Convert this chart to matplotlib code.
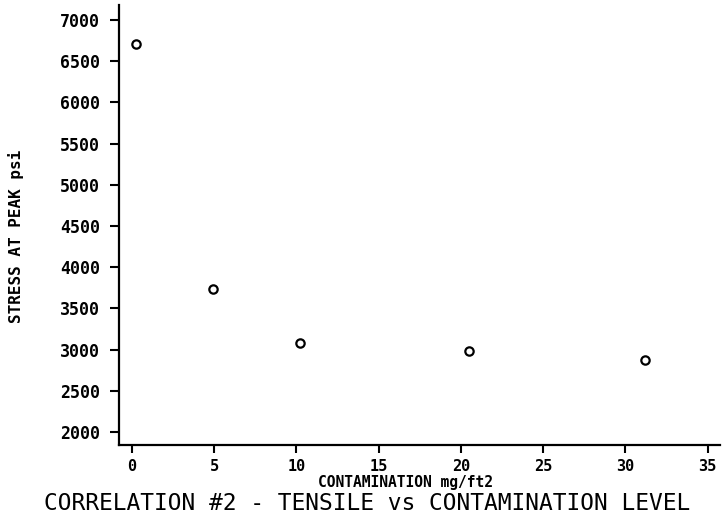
import matplotlib
matplotlib.use('Agg')
import matplotlib.pyplot as plt

# contamination level (mg/ft2) vs stress at peak (psi)
contamination = [0.25, 4.9, 10.2, 20.5, 31.2]
stress = [6705, 3730, 3075, 2985, 2875]

x_ticks = [0, 5, 10, 15, 20, 25, 30, 35]
y_ticks = [2000, 2500, 3000, 3500, 4000, 4500, 5000, 5500, 6000, 6500, 7000]

fig = plt.figure(figsize=(7.22, 5.21), dpi=100)
ax = fig.add_axes([0.1648, 0.1459, 0.8322, 0.8445])

ax.plot(contamination, stress, linestyle='none', marker='o', markersize=6,
        markerfacecolor='none', markeredgecolor='black', markeredgewidth=1.6)

ax.set_xlim(-0.79, 35.75)
ax.set_ylim(1842, 7182)
ax.set_xticks(x_ticks)
ax.set_yticks(y_ticks)

for s in ['top', 'right']:
    ax.spines[s].set_visible(False)
for s in ['left', 'bottom']:
    ax.spines[s].set_linewidth(1.6)

ax.tick_params(direction='out', width=1.5)
ax.tick_params(axis='x', length=6, pad=4)
ax.tick_params(axis='y', length=6.5, pad=7)
for lab in ax.get_xticklabels():
    lab.set_family('DejaVu Sans Mono')
    lab.set_fontweight('bold')
    lab.set_fontsize(11)
for lab in ax.get_yticklabels():
    lab.set_family('DejaVu Sans Mono')
    lab.set_fontweight('bold')
    lab.set_fontsize(12)

fig.text(405/722, 1 - 482/521, 'CONTAMINATION mg/ft2', ha='center', va='center',
         family='DejaVu Sans Mono', fontweight='bold', fontsize=10.5)
fig.text(16/722, 1 - 236/521, 'STRESS AT PEAK psi', ha='center', va='center',
         rotation=90, family='DejaVu Sans Mono', fontweight='bold', fontsize=11.5)
fig.text(367/722, 1 - 503/521, 'CORRELATION #2 - TENSILE vs CONTAMINATION LEVEL',
         ha='center', va='center', family='DejaVu Sans Mono', fontsize=16.5)

fig.savefig('out.png', dpi=100)
